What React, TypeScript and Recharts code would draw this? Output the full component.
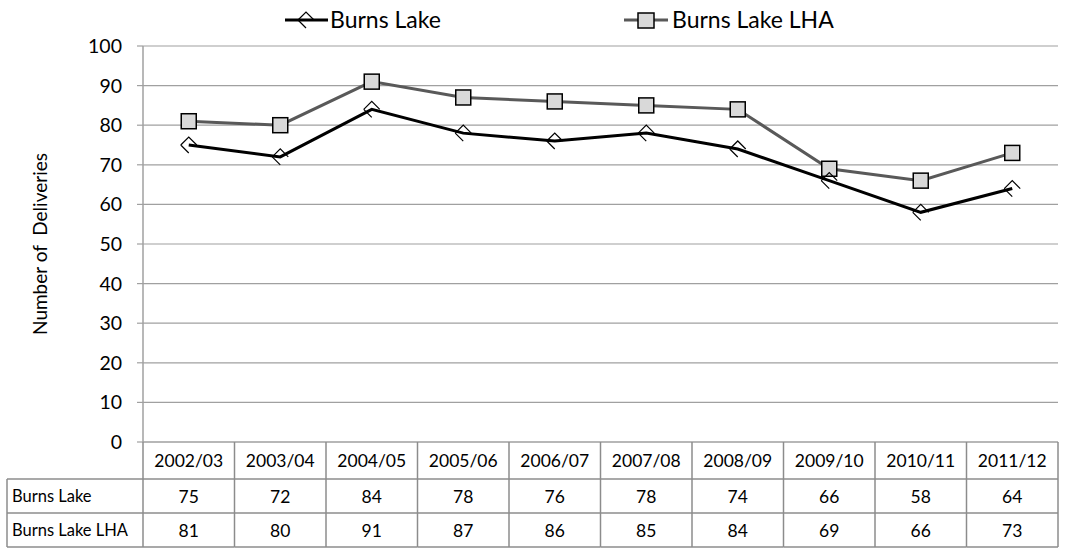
import React from 'react';
import { LineChart, Line, XAxis, YAxis, CartesianGrid, Legend } from 'recharts';

const categories = ['2002/03', '2003/04', '2004/05', '2005/06', '2006/07', '2007/08', '2008/09', '2009/10', '2010/11', '2011/12'];
const burnsLake = [75, 72, 84, 78, 76, 78, 74, 66, 58, 64];
const burnsLakeLHA = [81, 80, 91, 87, 86, 85, 84, 69, 66, 73];
const seriesNames = ['Burns Lake', 'Burns Lake LHA'];
const yTicks = [0, 10, 20, 30, 40, 50, 60, 70, 80, 90, 100];

const data = categories.map((c, i) => ({ cat: c, a: burnsLake[i], b: burnsLakeLHA[i] }));

const W = 1066;
const H = 548;
const PLOT_LEFT = 143;
const PLOT_RIGHT = 8;
const LEGEND_H = 40;
const PLOT_TOP = 46;
const XAXIS_H = 106;
const COL_W = (W - PLOT_LEFT - PLOT_RIGHT) / categories.length;
const ROW_H = [37, 34, 34];
const FONT = 'Lato, "Open Sans", sans-serif';
const GRID = '#a0a0a0';
const TABLE_LINE = '#8c8c8c';
const TFS = 17.5;

const DiamondDot = (props: any) => {
  const { cx, cy } = props;
  if (cx == null || cy == null) return null;
  const s = 8;
  return (
    <path
      d={`M${cx - s},${cy} L${cx},${cy - s} L${cx + s},${cy} M${cx - s},${cy} L${cx},${cy + s}`}
      fill="none"
      stroke="#000"
      strokeWidth={1.2}
    />
  );
};

const SquareDot = (props: any) => {
  const { cx, cy } = props;
  if (cx == null || cy == null) return null;
  const s = 7.5;
  return <rect x={cx - s} y={cy - s} width={2 * s} height={2 * s} fill="#d9d9d9" stroke="#000" strokeWidth={1.5} />;
};

const TableTick = (props: any) => {
  const { x, y, payload } = props;
  const i = payload.index;
  const left = x - COL_W / 2;
  const right = x + COL_W / 2;
  const y0 = y;
  const y1 = y0 + ROW_H[0];
  const y2 = y1 + ROW_H[1];
  const y3 = y2 + ROW_H[2];
  const els: any[] = [];
  els.push(<line key="l" x1={left} y1={y0} x2={left} y2={y3} stroke={TABLE_LINE} strokeWidth={1.5} />);
  if (i === categories.length - 1) {
    els.push(<line key="r" x1={right} y1={y0} x2={right} y2={y3} stroke={TABLE_LINE} strokeWidth={1.5} />);
  }
  els.push(<line key="h1" x1={left} y1={y1} x2={right} y2={y1} stroke={TABLE_LINE} strokeWidth={1.5} />);
  els.push(<line key="h2" x1={left} y1={y2} x2={right} y2={y2} stroke={TABLE_LINE} strokeWidth={1.5} />);
  els.push(<line key="h3" x1={left} y1={y3} x2={right} y2={y3} stroke={TABLE_LINE} strokeWidth={1.5} />);
  els.push(
    <text key="t0" x={x} y={(y0 + y1) / 2} textAnchor="middle" dominantBaseline="central" fontSize={TFS} fill="#000" fontFamily={FONT}>
      {categories[i]}
    </text>
  );
  els.push(
    <text key="t1" x={x} y={(y1 + y2) / 2} textAnchor="middle" dominantBaseline="central" fontSize={TFS} fill="#000" fontFamily={FONT}>
      {burnsLake[i]}
    </text>
  );
  els.push(
    <text key="t2" x={x} y={(y2 + y3) / 2} textAnchor="middle" dominantBaseline="central" fontSize={TFS} fill="#000" fontFamily={FONT}>
      {burnsLakeLHA[i]}
    </text>
  );
  if (i === 0) {
    const lx = 7;
    els.push(<line key="ll" x1={lx} y1={y1} x2={lx} y2={y3} stroke={TABLE_LINE} strokeWidth={1.5} />);
    els.push(<line key="lh1" x1={lx} y1={y1} x2={left} y2={y1} stroke={TABLE_LINE} strokeWidth={1.5} />);
    els.push(<line key="lh2" x1={lx} y1={y2} x2={left} y2={y2} stroke={TABLE_LINE} strokeWidth={1.5} />);
    els.push(<line key="lh3" x1={lx} y1={y3} x2={left} y2={y3} stroke={TABLE_LINE} strokeWidth={1.5} />);
    els.push(
      <text key="n1" x={lx + 5} y={(y1 + y2) / 2} dominantBaseline="central" fontSize={16.5} fill="#000" fontFamily={FONT}>
        {seriesNames[0]}
      </text>
    );
    els.push(
      <text key="n2" x={lx + 5} y={(y2 + y3) / 2} dominantBaseline="central" fontSize={16.5} fill="#000" fontFamily={FONT}>
        {seriesNames[1]}
      </text>
    );
  }
  return <g>{els}</g>;
};

const LegendContent = () => (
  <svg width={W} height={LEGEND_H} style={{ display: 'block' }}>
    <line x1={285} y1={20} x2={328} y2={20} stroke="#000" strokeWidth={3} />
    <path d="M298,20 L306,12 L314,20 M298,20 L306,28" fill="none" stroke="#000" strokeWidth={1.2} />
    <text x={330} y={19} dominantBaseline="central" fontSize={23} fill="#000" fontFamily={FONT}>
      {seriesNames[0]}
    </text>
    <line x1={624} y1={20} x2={668} y2={20} stroke="#595959" strokeWidth={3} />
    <rect x={638} y={13} width={16} height={15} fill="#d9d9d9" stroke="#000" strokeWidth={1.5} />
    <text x={672} y={19} dominantBaseline="central" fontSize={23} fill="#000" fontFamily={FONT}>
      {seriesNames[1]}
    </text>
  </svg>
);

export default function App() {
  return (
    <div style={{ position: 'absolute', left: 0, top: 0, width: W, height: H, background: '#fff' }}>
      <LineChart width={W} height={H} data={data} margin={{ top: PLOT_TOP - LEGEND_H, right: PLOT_RIGHT, left: 0, bottom: 0 }}>
        <CartesianGrid horizontal vertical={false} stroke={GRID} strokeWidth={1.2} />
        <XAxis
          dataKey="cat"
          height={XAXIS_H}
          padding={{ left: COL_W / 2, right: COL_W / 2 }}
          axisLine={{ stroke: GRID, strokeWidth: 1.2 }}
          tickLine={false}
          tickSize={0}
          tickMargin={0}
          interval={0}
          tick={<TableTick />}
        />
        <YAxis
          width={PLOT_LEFT}
          domain={[0, 100]}
          ticks={yTicks}
          interval={0}
          axisLine={{ stroke: GRID, strokeWidth: 1.5 }}
          tickLine={{ stroke: GRID, strokeWidth: 1.2 }}
          tickSize={6}
          tickMargin={15}
          tick={{ fontSize: 19.5, fill: '#000', fontFamily: FONT }}
          label={{
            value: 'Number of\u00a0 Deliveries',
            angle: -90,
            position: 'insideLeft',
            offset: 40,
            style: { textAnchor: 'middle', fontSize: 19, fill: '#000', fontFamily: FONT },
          }}
        />
        <Legend verticalAlign="top" wrapperStyle={{ top: 0, left: 0 }} content={<LegendContent />} />
        <Line
          type="linear"
          dataKey="b"
          name={seriesNames[1]}
          stroke="#595959"
          strokeWidth={3}
          dot={<SquareDot />}
          activeDot={false}
          isAnimationActive={false}
        />
        <Line
          type="linear"
          dataKey="a"
          name={seriesNames[0]}
          stroke="#000"
          strokeWidth={3}
          dot={<DiamondDot />}
          activeDot={false}
          isAnimationActive={false}
        />
      </LineChart>
    </div>
  );
}
